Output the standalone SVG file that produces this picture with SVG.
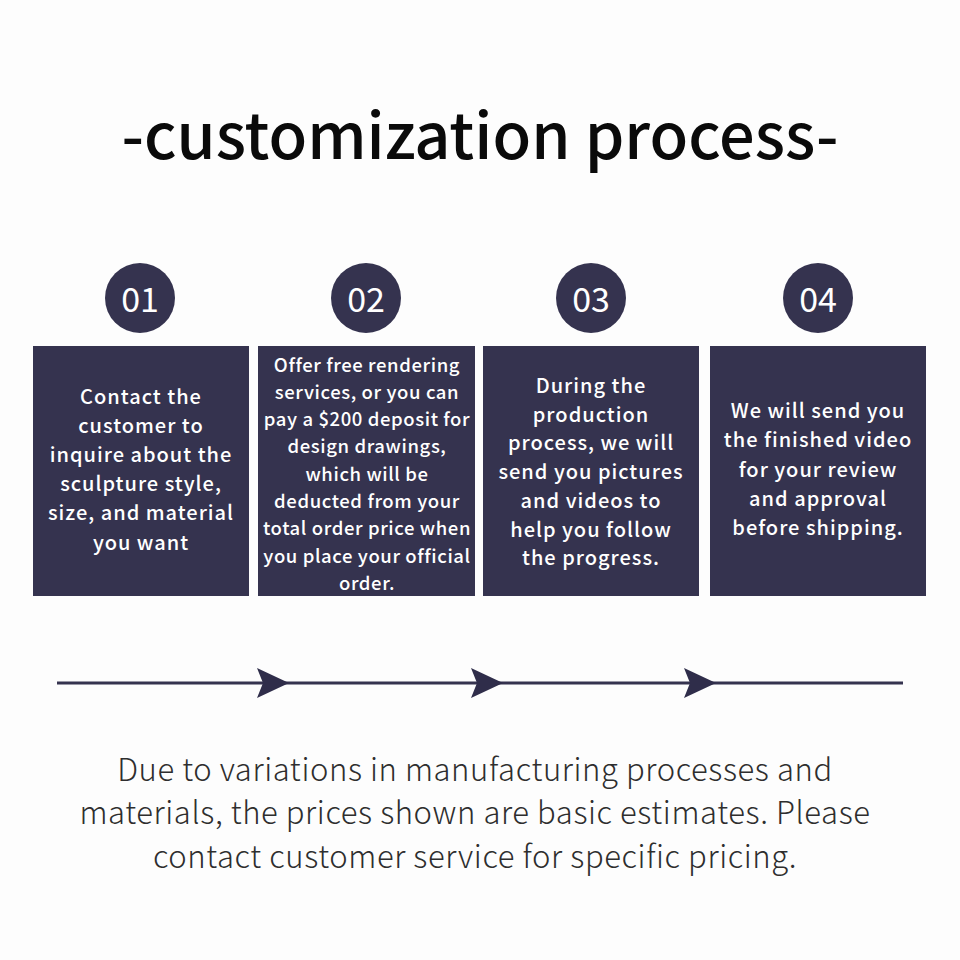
<svg xmlns="http://www.w3.org/2000/svg" width="960" height="960" viewBox="0 0 960 960">
<defs>
<style>
.title{font-family:"Noto Sans CJK SC","Noto Sans",sans-serif;font-size:63px;font-weight:500;fill:#0a0a0a;text-anchor:middle}
.num{font-family:"Noto Sans CJK SC","Noto Sans",sans-serif;font-size:34px;font-weight:400;fill:#ffffff;text-anchor:middle}
.box{fill:#35334f}
.circ{fill:#35334f}
.bt{font-family:"Noto Sans CJK SC","Noto Sans",sans-serif;font-size:20px;font-weight:500;fill:#ffffff;text-anchor:middle;letter-spacing:1px}
.bt2{font-family:"Noto Sans CJK SC","Noto Sans",sans-serif;font-size:18.5px;font-weight:500;fill:#ffffff;text-anchor:middle;letter-spacing:0.6px}
.note{font-family:"Noto Sans CJK SC","Noto Sans",sans-serif;font-size:31px;font-weight:300;fill:#2e2e2e;text-anchor:middle;letter-spacing:0.6px}
.line{stroke:#35334f;stroke-width:3;fill:none}
.head{fill:#2f2d4a}
</style>
</defs>
<rect width="960" height="960" fill="#fdfdfd"/>
<text class="title" x="480" y="159">-customization process-</text>

<g id="step1">
<circle class="circ" cx="140" cy="298" r="35"/>
<text class="num" x="140" y="312">01</text>
<rect class="box" x="33" y="346" width="216" height="250"/>
<text class="bt" x="141" y="404">Contact the</text>
<text class="bt" x="141" y="433">customer to</text>
<text class="bt" x="141" y="462">inquire about the</text>
<text class="bt" x="141" y="491">sculpture style,</text>
<text class="bt" x="141" y="520">size, and material</text>
<text class="bt" x="141" y="550">you want</text>
</g>

<g id="step2">
<circle class="circ" cx="366" cy="298" r="35"/>
<text class="num" x="366" y="312">02</text>
<rect class="box" x="258" y="346" width="217" height="250"/>
<text class="bt2" x="367" y="372">Offer free rendering</text>
<text class="bt2" x="367" y="399">services, or you can</text>
<text class="bt2" x="367" y="426">pay a $200 deposit for</text>
<text class="bt2" x="367" y="453">design drawings,</text>
<text class="bt2" x="367" y="481">which will be</text>
<text class="bt2" x="367" y="508">deducted from your</text>
<text class="bt2" x="367" y="535">total order price when</text>
<text class="bt2" x="367" y="563">you place your official</text>
<text class="bt2" x="367" y="590">order.</text>
</g>

<g id="step3">
<circle class="circ" cx="591" cy="298" r="35"/>
<text class="num" x="591" y="312">03</text>
<rect class="box" x="483" y="346" width="216" height="250"/>
<text class="bt" x="591" y="393">During the</text>
<text class="bt" x="591" y="422">production</text>
<text class="bt" x="591" y="450">process, we will</text>
<text class="bt" x="591" y="479">send you pictures</text>
<text class="bt" x="591" y="508">and videos to</text>
<text class="bt" x="591" y="537">help you follow</text>
<text class="bt" x="591" y="565">the progress.</text>
</g>

<g id="step4">
<circle class="circ" cx="818" cy="298" r="35"/>
<text class="num" x="818" y="312">04</text>
<rect class="box" x="710" y="346" width="216" height="250"/>
<text class="bt" x="818" y="418">We will send you</text>
<text class="bt" x="818" y="447">the finished video</text>
<text class="bt" x="818" y="477">for your review</text>
<text class="bt" x="818" y="506">and approval</text>
<text class="bt" x="818" y="535">before shipping.</text>
</g>

<g id="connectors">
<line class="line" x1="57" y1="683" x2="903" y2="683"/>
<path class="head" d="M257,668 L289,683 L257,698 L263,683 Z"/>
<path class="head" d="M471,668 L503,683 L471,698 L477,683 Z"/>
<path class="head" d="M684,668 L716,683 L684,698 L690,683 Z"/>
</g>

<text class="note" x="475" y="781">Due to variations in manufacturing processes and</text>
<text class="note" x="475" y="824">materials, the prices shown are basic estimates. Please</text>
<text class="note" x="475" y="868">contact customer service for specific pricing.</text>
</svg>
